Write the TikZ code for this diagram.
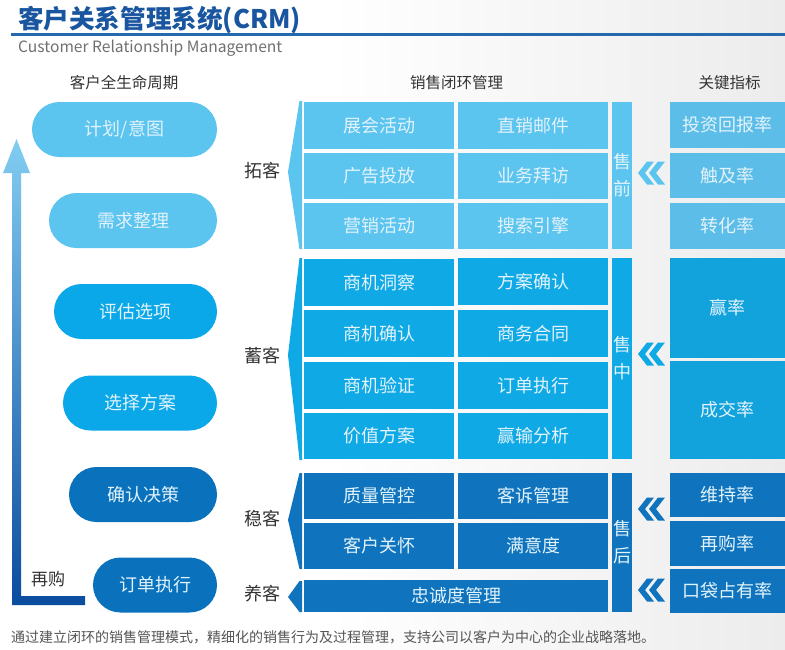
\documentclass[tikz,border=0pt]{standalone}
\usepackage{fontspec}
\setmainfont{Noto Sans CJK SC}
\definecolor{cA}{HTML}{5BC4EF}
\definecolor{cB}{HTML}{0FA9E6}
\definecolor{cC}{HTML}{0F74BD}
\definecolor{pB}{HTML}{0AA8E8}
\definecolor{pC}{HTML}{0A72BC}
\definecolor{rA}{HTML}{5CBDE8}
\definecolor{rB}{HTML}{12A3DD}
\definecolor{boxtext}{HTML}{E2F3FB}
\definecolor{titleblue}{HTML}{1A56A0}
\definecolor{lineblue}{HTML}{2468AE}
\definecolor{darktext}{HTML}{333333}
\definecolor{subgrey}{HTML}{707070}
\definecolor{footgrey}{HTML}{555555}
\definecolor{arrtop}{HTML}{82CDF2}
\definecolor{arrmid}{HTML}{4AA3DF}
\definecolor{arrbot}{HTML}{0A4C9E}
\definecolor{bggrey}{HTML}{ECECEC}
\tikzset{
  cell/.style={rectangle, inner sep=0pt, text=boxtext, font=\fontsize{18}{27}\selectfont},
  pill/.style={rectangle, rounded corners=27.5pt, inner sep=0pt, minimum height=55pt, text=boxtext, font=\fontsize{18}{18}\selectfont},
  hdr/.style={text=darktext, font=\fontsize{15.5}{16}\selectfont, inner sep=0pt},
  stage/.style={text=darktext, font=\fontsize{18}{18}\selectfont, inner sep=0pt},
}
\newcommand\cellbox[7]{%
  \node[cell, fill=#6, minimum width={(#4)-(#2)}, minimum height={(#5)-(#3)}] (#1) at ({((#2)+(#4))/2},{((#3)+(#5))/2}) {#7};}
\newcommand\chevrons[3]{%
  \fill[#3] (#1,#2) -- ({#1+9},{#2-11.5}) -- ({#1+16},{#2-11.5}) -- ({#1+7},#2) -- ({#1+16},{#2+11.5}) -- ({#1+9},{#2+11.5}) -- cycle;
  \fill[#3] ({#1+11},#2) -- ({#1+20},{#2-11.5}) -- ({#1+27},{#2-11.5}) -- ({#1+18},#2) -- ({#1+27},{#2+11.5}) -- ({#1+20},{#2+11.5}) -- cycle;}
\newcommand\stagebrace[6]{% right x, top, bottom, tip x, tip y, colour
  \fill[#6] ({#1-2.5},#2) -- (#1,#2) -- (#1,#3) -- ({#1-2.5},#3) -- (#4,#5) -- cycle;}
\begin{document}
\begin{tikzpicture}[x=1pt, y=-1pt]
\useasboundingbox (0,0) rectangle (785,649);
\fill[white] (0,0) rectangle (785,649);
\shade[left color=white, right color=bggrey] (330,0) rectangle (785,649);

% title
\node[anchor=base west, inner sep=0pt, text=titleblue, font=\fontsize{25.6}{26}\selectfont\bfseries] (title) at (18,28) {客户关系管理系统(CRM)};
\draw[lineblue, line width=2.5pt] (11,34.5) -- (785,34.5);
\node[anchor=base west, inner sep=0pt, text=subgrey, font=\fontsize{15.6}{16}\selectfont] (sub) at (18,52.7) {Customer Relationship Management};

% headers
\node[hdr] (h1) at (124,83) {客户全生命周期};
\node[hdr] (h2) at (456.5,83) {销售闭环管理};
\node[hdr] (h3) at (729.5,83) {关键指标};

% left arrow
\shade[top color=arrtop, middle color=arrmid, bottom color=arrbot]
  (16.5,139) -- (30,173) -- (21,173) -- (21,596) -- (85,596) -- (85,605) -- (12,605) -- (12,173) -- (3,173) -- cycle;
\node[stage, font=\fontsize{17}{17}\selectfont] (rebuy) at (48,579) {再购};

% pills
\node[pill, fill=cA, minimum width=185pt] (p1) at (124.5,129.5) {计划/意图};
\node[pill, fill=cA, minimum width=168pt] (p2) at (133,220.5) {需求整理};
\node[pill, fill=pB, minimum width=163pt] (p3) at (135.5,311.5) {评估选项};
\node[pill, fill=pB, minimum width=154pt] (p4) at (140,403) {选择方案};
\node[pill, fill=pC, minimum width=148pt] (p5) at (143,494.5) {确认决策};
\node[pill, fill=pC, minimum width=124pt] (p6) at (155,585) {订单执行};

% stage labels and braces
\node[stage] (s1) at (262,171) {拓客};
\node[stage] (s2) at (262,356) {蓄客};
\node[stage] (s3) at (262,519) {稳客};
\node[stage] (s4) at (262,594) {养客};
\stagebrace{302}{101}{249}{288}{172}{cA}
\stagebrace{302}{258}{460}{288}{355}{cB}
\stagebrace{302}{473}{569}{288}{520}{cC}
\stagebrace{302}{581}{612}{288}{597}{cC}

% section 1
\cellbox{a11}{304}{102}{454}{149}{cA}{展会活动}
\cellbox{a12}{458}{102}{608}{149}{cA}{直销邮件}
\cellbox{a21}{304}{153}{454}{199}{cA}{广告投放}
\cellbox{a22}{458}{153}{608}{199}{cA}{业务拜访}
\cellbox{a31}{304}{203}{454}{249}{cA}{营销活动}
\cellbox{a32}{458}{203}{608}{249}{cA}{搜索引擎}
\cellbox{sq}{612}{102}{632}{249}{cA, align=center}{售\\前}

% section 2
\cellbox{b11}{304}{259}{454}{306}{cB}{商机洞察}
\cellbox{b12}{458}{258}{608}{305}{cB}{方案确认}
\cellbox{b21}{304}{310}{454}{357}{cB}{商机确认}
\cellbox{b22}{458}{310}{608}{357}{cB}{商务合同}
\cellbox{b31}{304}{362}{454}{409}{cB}{商机验证}
\cellbox{b32}{458}{362}{608}{409}{cB}{订单执行}
\cellbox{b41}{304}{413}{454}{459}{cB}{价值方案}
\cellbox{b42}{458}{413}{608}{459}{cB}{赢输分析}
\cellbox{sz}{612}{258}{632}{459}{cB, align=center}{售\\中}

% section 3
\cellbox{c11}{304}{473}{454}{519}{cC}{质量管控}
\cellbox{c12}{458}{473}{608}{519}{cC}{客诉管理}
\cellbox{c21}{304}{523}{454}{569}{cC}{客户关怀}
\cellbox{c22}{458}{523}{608}{569}{cC}{满意度}
\cellbox{c31}{304}{580}{608}{612}{cC}{忠诚度管理}
\cellbox{sh}{612}{473}{632}{612}{cC, align=center}{售\\后}

% chevrons
\chevrons{638}{173}{cA}
\chevrons{638}{354}{cB}
\chevrons{638}{509}{cC}
\chevrons{638}{590}{cC}

% key indicators
\cellbox{k1}{670}{102}{785}{148}{rA}{投资回报率}
\cellbox{k2}{670}{153}{785}{198}{rA}{触及率}
\cellbox{k3}{670}{203}{785}{249}{rA}{转化率}
\cellbox{k4}{670}{258}{785}{358}{rB}{赢率}
\cellbox{k5}{670}{361}{785}{459}{rB}{成交率}
\cellbox{k6}{670}{473}{785}{517}{cC}{维持率}
\cellbox{k7}{670}{521}{785}{566}{cC}{再购率}
\cellbox{k8}{670}{569}{785}{613}{cC}{口袋占有率}

% footer
\node[anchor=west, inner sep=0pt, text=footgrey, font=\fontsize{14}{14}\selectfont] (foot) at (11,637) {通过建立闭环的销售管理模式，精细化的销售行为及过程管理，支持公司以客户为中心的企业战略落地。};
\end{tikzpicture}
\end{document}
